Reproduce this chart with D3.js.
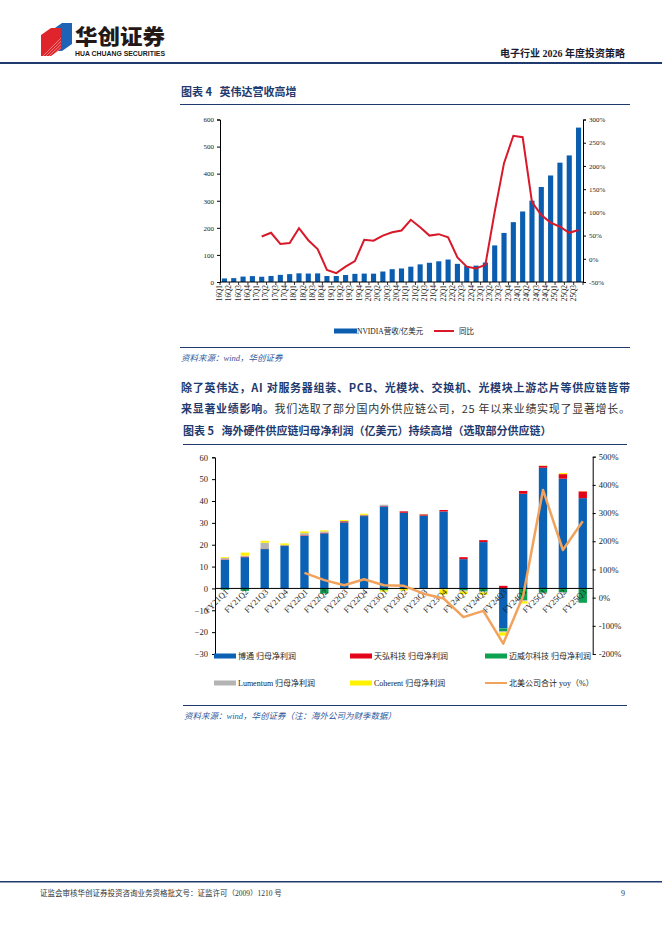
<!DOCTYPE html>
<html><head><meta charset="utf-8">
<script src="https://cdn.jsdelivr.net/npm/d3@7"></script>
<style>
html,body{margin:0;padding:0;background:#fff;}
svg{display:block;}
</style></head>
<body>
<svg id="page" width="662" height="936"></svg>
<script>
// ---------- Chart 1 data ----------
const quarters1 = ["16Q1","16Q2","16Q3","16Q4","17Q1","17Q2","17Q3","17Q4","18Q1","18Q2","18Q3","18Q4",
 "19Q1","19Q2","19Q3","19Q4","20Q1","20Q2","20Q3","20Q4","21Q1","21Q2","21Q3","21Q4",
 "22Q1","22Q2","22Q3","22Q4","23Q1","23Q2","23Q3","23Q4","24Q1","24Q2","24Q3","24Q4","25Q1","25Q2","25Q3"];
const nvdaRevenue = [13.1,14.3,20.0,21.7,19.4,22.3,26.4,29.1,32.1,31.2,31.8,22.1,
 22.2,25.8,30.1,31.1,30.8,38.7,47.3,50.0,56.6,65.1,71.0,76.4,
 82.9,67.0,59.3,60.5,71.9,135.1,181.2,221.0,260.4,300.4,350.8,393.3,440.6,467.4,570.1];
const nvdaYoY = [null,null,null,null,48,56,32,34,66,40,21,-24,
 -31,-17,-5,41,39,50,57,61,84,68,50,53,
 46,3,-17,-21,-13,101,206,265,262,122,94,78,69,56,62];
const leftTicks1 = [0,100,200,300,400,500,600];
const rightTicks1 = [-50,0,50,100,150,200,250,300];

// ---------- Chart 2 data ----------
const quarters2 = ["FY21Q1","FY21Q2","FY21Q3","FY21Q4","FY22Q1","FY22Q2","FY22Q3","FY22Q4",
 "FY23Q1","FY23Q2","FY23Q3","FY23Q4","FY24Q1","FY24Q2","FY24Q3","FY24Q4","FY25Q1","FY25Q2","FY25Q3"];
const broadcom  = [13.1,14.3,18.0,19.4,24.0,25.2,30.2,33.1,37.5,34.6,33.3,35.2,13.4,21.2,-18.3,43.3,55.2,50.2,41.3];
const celestica = [0.2,0.3,0.2,0.2,0.3,0.3,0.5,0.3,0.2,0.7,0.6,0.7,0.9,0.9,1.2,1.3,0.9,2.1,3.1];
const marvell   = [-0.6,-1.1,0.1,0.1,-0.3,-2.3,0.1,0.1,-0.9,-0.2,-0.1,-0.2,-0.9,-1.4,-1.2,-5.4,-2.0,-1.7,-6.6];
const lumentum  = [0.6,0.4,2.6,0.2,1.0,0.6,0.1,0.2,0.6,0.1,0.1,-0.2,-0.5,-0.4,-0.6,-0.5,-0.3,-0.3,-0.1];
const coherent  = [0.4,1.4,0.9,0.7,0.8,0.5,0.4,0.5,-0.6,-0.8,0.1,-2.4,-1.2,-1.1,-1.5,-1.0,0.1,0.5,0.1];
const naYoY     = [null,null,null,null,88,62,44,65,44,42,14,-3,-69,-47,-163,6,382,169,271];
const leftTicks2 = [-30,-20,-10,0,10,20,30,40,50,60];
const rightTicks2 = [-200,-100,0,100,200,300,400,500];
const seriesNames2 = ["博通 归母净利润","天弘科技 归母净利润","迈威尔科技 归母净利润","Lumentum 归母净利润","Coherent 归母净利润"];
const lineName2 = "北美公司合计 yoy（%）";

// ---------- styles ----------
const NAVY = "#1F3A6E";
const SERIF = "'Liberation Serif','Noto Sans CJK SC',serif";
const CJK = "'Noto Sans CJK SC','Liberation Serif',sans-serif";
const colors2 = ["#0B62B4","#E3061B","#0DA152","#B4B4B4","#FFF200"];

const svg = d3.select("#page");

// ---------- page header ----------
const logo = svg.append("g");
logo.append("path").attr("d","M52,30 L62,23 L72,23 L72,44 L62,51 L52,51 Z").attr("fill","#1E63B5");
logo.append("path").attr("d","M41,35 L51,28 L61,28 L61,49 L51,56 L41,56 Z").attr("fill","#E0242B");
for(let i=0;i<6;i++){
  logo.append("line").attr("x1",43+i*3).attr("y1",56).attr("x2",61).attr("y2",38+i*3.2)
   .attr("stroke","#fff").attr("stroke-width",0.6).attr("opacity",0.7);
}
svg.append("text").attr("x",75).attr("y",44).text("华创证券")
  .attr("font-family",CJK).attr("font-weight","900").attr("font-size",21).attr("fill","#231815")
  .attr("textLength",90).attr("lengthAdjust","spacingAndGlyphs");
svg.append("text").attr("x",75).attr("y",55.5).text("HUA CHUANG SECURITIES")
  .attr("font-family","'Liberation Sans',Arial,sans-serif").attr("font-weight","bold").attr("font-size",6.5).attr("fill","#231815")
  .attr("textLength",90).attr("lengthAdjust","spacingAndGlyphs");
svg.append("text").attr("x",625).attr("y",57).attr("text-anchor","end").text("电子行业 2026 年度投资策略")
  .attr("font-family",SERIF).attr("font-weight","bold").attr("font-size",10).attr("fill","#1a1a2e");
svg.append("rect").attr("x",0).attr("y",62).attr("width",662).attr("height",2).attr("fill",NAVY);

// ---------- Chart 1 ----------
svg.append("text").attr("x",181).attr("y",96).text("图表 4   英伟达营收高增")
  .attr("font-family",CJK).attr("font-weight","bold").attr("font-size",11).attr("fill",NAVY)
  .attr("xml:space","preserve");
svg.append("line").attr("x1",180).attr("x2",630).attr("y1",104.5).attr("y2",104.5).attr("stroke",NAVY).attr("stroke-width",1);

const g1 = svg.append("g");
const x1 = d3.scaleBand().domain(quarters1).range([220,583]).paddingInner(0.45).paddingOuter(0.2);
const y1L = d3.scaleLinear().domain([0,600]).range([282,119.5]);
const y1R = d3.scaleLinear().domain([-50,300]).range([282,119.5]);

g1.selectAll("rect.bar").data(quarters1).join("rect").attr("class","bar")
  .attr("x",d=>x1(d)).attr("width",x1.bandwidth())
  .attr("y",(d,i)=>y1L(nvdaRevenue[i])).attr("height",(d,i)=>y1L(0)-y1L(nvdaRevenue[i]))
  .attr("fill","#0B5EAF");

const axL1 = g1.append("g").attr("transform","translate(220,0)")
  .call(d3.axisLeft(y1L).tickValues(leftTicks1).tickSize(3).tickPadding(3));
const axR1 = g1.append("g").attr("transform","translate(583,0)")
  .call(d3.axisRight(y1R).tickValues(rightTicks1).tickSize(3).tickPadding(3).tickFormat(d=>d+"%"));
const axB1 = g1.append("g").attr("transform","translate(0,282)")
  .call(d3.axisBottom(x1).tickSize(0).tickPadding(3));
[axL1,axR1,axB1].forEach(a=>{
  a.selectAll("path,line").attr("stroke","#000").attr("stroke-width",1);
  a.selectAll("text").attr("font-family",SERIF).attr("font-size",7).attr("fill","#222");
});
axB1.selectAll("text").attr("font-size",7.3).attr("transform","rotate(-90)").attr("text-anchor","end")
  .attr("dx","-3").attr("dy","-0.35em").attr("x",0).attr("y",0);
axB1.select(".domain").attr("d","M220,0H583");
const step1 = 363/quarters1.length;
g1.append("g").selectAll("line").data(d3.range(quarters1.length+1)).join("line")
  .attr("x1",i=>220+i*step1).attr("x2",i=>220+i*step1)
  .attr("y1",282).attr("y2",285).attr("stroke","#000").attr("stroke-width",0.8);

const line1 = d3.line().defined(d=>d.v!==null).x(d=>x1(d.q)+x1.bandwidth()/2).y(d=>y1R(d.v));
g1.append("path").datum(quarters1.map((q,i)=>({q,v:nvdaYoY[i]})))
  .attr("d",line1).attr("fill","none").attr("stroke","#D7192A").attr("stroke-width",2);

// legend 1
g1.append("rect").attr("x",334).attr("y",328.5).attr("width",23).attr("height",5).attr("fill","#0B5EAF");
g1.append("text").attr("x",357).attr("y",333.5).text("NVIDIA营收/亿美元")
  .attr("font-family",SERIF).attr("font-size",7.5).attr("fill","#222");
g1.append("line").attr("x1",434).attr("x2",454).attr("y1",331).attr("y2",331).attr("stroke","#D7192A").attr("stroke-width",2);
g1.append("text").attr("x",459).attr("y",333.5).text("同比")
  .attr("font-family",SERIF).attr("font-size",7.5).attr("fill","#222");

svg.append("line").attr("x1",180).attr("x2",630).attr("y1",347.5).attr("y2",347.5).attr("stroke",NAVY).attr("stroke-width",1);
svg.append("text").attr("x",181).attr("y",361).text("资料来源：wind，华创证券")
  .attr("font-family",SERIF).attr("font-style","italic").attr("font-size",8.5).attr("fill","#2E5A9E");

// ---------- paragraph ----------
const p1 = svg.append("text").attr("x",181).attr("y",392).attr("font-family",CJK).attr("font-size",11)
  .attr("textLength",449).attr("lengthAdjust","spacing");
p1.append("tspan").text("除了英伟达，AI 对服务器组装、PCB、光模块、交换机、光模块上游芯片等供应链皆带")
  .attr("font-weight","bold").attr("fill",NAVY);
const p2 = svg.append("text").attr("x",181).attr("y",413).attr("font-family",CJK).attr("font-size",11)
  .attr("textLength",449).attr("lengthAdjust","spacing");
p2.append("tspan").text("来显著业绩影响。").attr("font-weight","bold").attr("fill",NAVY);
p2.append("tspan").text("我们选取了部分国内外供应链公司，25 年以来业绩实现了显著增长。").attr("fill","#333");

// ---------- Chart 2 ----------
svg.append("text").attr("x",183).attr("y",435).text("图表 5   海外硬件供应链归母净利润（亿美元）持续高增（选取部分供应链）")
  .attr("font-family",CJK).attr("font-weight","bold").attr("font-size",11).attr("fill",NAVY)
  .attr("xml:space","preserve");
svg.append("line").attr("x1",183).attr("x2",627).attr("y1",444.5).attr("y2",444.5).attr("stroke",NAVY).attr("stroke-width",1);

const g2 = svg.append("g");
const x2 = d3.scaleBand().domain(quarters2).range([215,592.7]).paddingInner(0.58).paddingOuter(0.29);
const y2L = d3.scaleLinear().domain([-30,60]).range([654,457.3]);
const y2R = d3.scaleLinear().domain([-200,500]).range([654,456.7]);

const table2 = quarters2.map((q,i)=>({q, s0:broadcom[i], s1:celestica[i], s2:marvell[i], s3:lumentum[i], s4:coherent[i]}));
const stack2 = d3.stack().keys(["s0","s1","s2","s3","s4"]).offset(d3.stackOffsetDiverging)(table2);
stack2.forEach((layer,k)=>{
  g2.append("g").selectAll("rect").data(layer).join("rect")
    .attr("x",d=>x2(d.data.q)).attr("width",x2.bandwidth())
    .attr("y",d=>y2L(Math.max(d[0],d[1]))).attr("height",d=>Math.abs(y2L(d[0])-y2L(d[1])))
    .attr("fill",colors2[k]);
});

const axL2 = g2.append("g").attr("transform","translate(215,0)")
  .call(d3.axisLeft(y2L).tickValues(leftTicks2).tickSize(3).tickPadding(4));
const axR2 = g2.append("g").attr("transform","translate(592.7,0)")
  .call(d3.axisRight(y2R).tickValues(rightTicks2).tickSize(3).tickPadding(3).tickFormat(d=>d+"%"));
[axL2,axR2].forEach(a=>{
  a.selectAll("path,line").attr("stroke","#000").attr("stroke-width",1);
  a.selectAll("text").attr("font-family",SERIF).attr("font-size",8.5).attr("fill","#222");
});
const axB2 = g2.append("g").attr("transform",`translate(0,${y2L(0)})`)
  .call(d3.axisBottom(x2).tickSize(0).tickPadding(0));
axB2.select(".domain").attr("d","M215,0H592.7").attr("stroke","#000").attr("stroke-width",1);
axB2.selectAll(".tick text").attr("font-family",SERIF).attr("font-size",8.5).attr("fill","#222")
  .attr("text-anchor","end").attr("y",0).attr("dy",0)
  .attr("transform","translate(4,4) rotate(-45)");

const line2 = d3.line().defined(d=>d.v!==null).x(d=>x2(d.q)+x2.bandwidth()/2).y(d=>y2R(d.v));
g2.append("path").datum(quarters2.map((q,i)=>({q,v:naYoY[i]})))
  .attr("d",line2).attr("fill","none").attr("stroke","#F1A25C").attr("stroke-width",2.5).attr("stroke-linejoin","round");

// legend 2
const leg2 = [
  {x:214,y:656,name:seriesNames2[0],c:colors2[0],t:"rect"},
  {x:350,y:656,name:seriesNames2[1],c:colors2[1],t:"rect"},
  {x:485,y:656,name:seriesNames2[2],c:colors2[2],t:"rect"},
  {x:214,y:683,name:seriesNames2[3],c:colors2[3],t:"rect"},
  {x:350,y:683,name:seriesNames2[4],c:colors2[4],t:"rect"},
  {x:485,y:683,name:lineName2,c:"#F1A25C",t:"line"}
];
leg2.forEach(d=>{
  if(d.t==="rect") g2.append("rect").attr("x",d.x).attr("y",d.y-2.5).attr("width",22).attr("height",5).attr("fill",d.c);
  else g2.append("line").attr("x1",d.x).attr("x2",d.x+22).attr("y1",d.y).attr("y2",d.y).attr("stroke",d.c).attr("stroke-width",2);
  g2.append("text").attr("x",d.x+24).attr("y",d.y+3).text(d.name)
    .attr("font-family",SERIF).attr("font-size",8).attr("fill","#222");
});

svg.append("line").attr("x1",183).attr("x2",627).attr("y1",705.5).attr("y2",705.5).attr("stroke",NAVY).attr("stroke-width",1);
svg.append("text").attr("x",184).attr("y",719).text("资料来源：wind，华创证券（注：海外公司为财季数据）")
  .attr("font-family",SERIF).attr("font-style","italic").attr("font-size",8.5).attr("fill","#2E5A9E");

// ---------- footer ----------
svg.append("rect").attr("x",0).attr("y",881).attr("width",662).attr("height",1.5).attr("fill",NAVY);
svg.append("text").attr("x",40).attr("y",896).text("证监会审核华创证券投资咨询业务资格批文号：证监许可（2009）1210 号")
  .attr("font-family",SERIF).attr("font-size",7.5).attr("fill","#333");
svg.append("text").attr("x",625).attr("y",896).attr("text-anchor","end").text("9")
  .attr("font-family",SERIF).attr("font-size",8).attr("fill","#333");
</script>
</body></html>
